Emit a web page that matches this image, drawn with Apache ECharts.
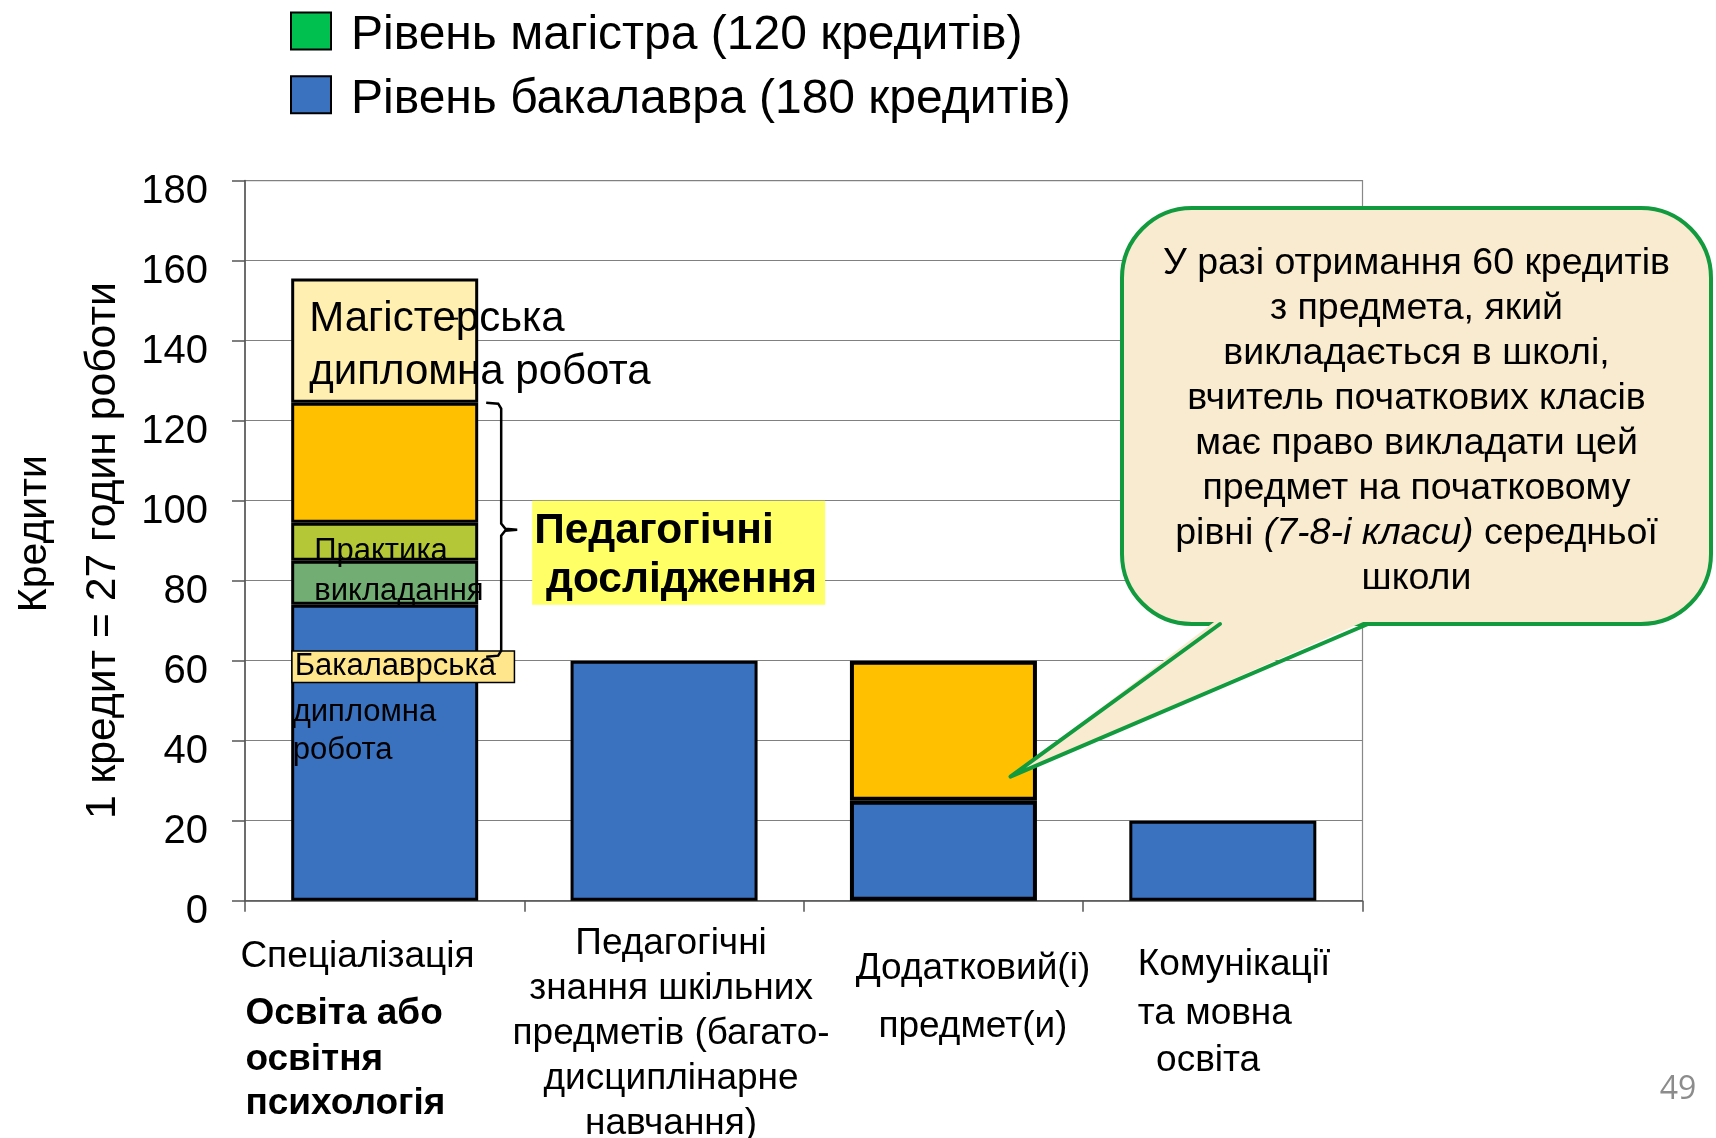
<!DOCTYPE html>
<html><head><meta charset="utf-8">
<script src="https://cdn.jsdelivr.net/npm/echarts@6/dist/echarts.min.js"></script>
<style>html,body{margin:0;padding:0;background:#fff}#c{width:1716px;height:1138px}</style>
</head><body><div id="c"></div>
<script>
// ---------- data ----------
const categories = ['Спеціалізація', 'Педагогічні знання шкільних предметів', 'Додатковий(і) предмет(и)', 'Комунікації та мовна освіта'];
const categoryLabelLines = [
  ['Спеціалізація', 'Освіта або', 'освітня', 'психологія'],
  ['Педагогічні', 'знання шкільних', 'предметів (багато-', 'дисциплінарне', 'навчання)'],
  ['Додатковий(і)', 'предмет(и)'],
  ['Комунікації', 'та мовна', ' освіта']
];
const yMin = 0, yMax = 180, yInterval = 20;
const legendNames = ['Рівень магістра (120 кредитів)', 'Рівень бакалавра (180 кредитів)'];
const bachelorValues = [74, 60, 25, 20];
const practiceLowerValues = [11, null, null, null];
const practiceUpperValues = [9.5, null, null, null];
const researchValues = [30, null, 35, null];
const masterThesisValues = [31, null, null, null];
const masterLegendValues = [];
const yAxisTitleLines = ['Кредити', '1 кредит = 27 годин роботи'];
const masterThesisText = 'Магістерська\nдипломна робота';
const practiceText = 'Практика\nвикладання';
const bachelorThesisLines = ['Бакалаврська', 'дипломна', 'робота'];
const researchText = 'Педагогічні\n дослідження';
const calloutText = 'У разі отримання 60 кредитів\nз предмета, який\nвикладається в школі,\nвчитель початкових класів\nмає право викладати цей\nпредмет на початковому\nрівні {i|(7-8-і класи)} середньої\nшколи';
const pageNumber = '49';

// ---------- styles ----------
const FONT = 'Liberation Sans';
const BAR_W = 187;
const border = {borderColor: '#000', borderWidth: 3};
const catStyle = [
  {w: 300, align: 'left', pad: [16.4, 21.4, 21.4, 21.4], lh: [71, 43, 49, 39], bold: [false, true, true, true]},
  {w: 300, align: 'center', pad: [14, 14, 14, 14, 14], lh: [45, 45, 45, 45, 45]},
  {w: 300, align: 'center', pad: [59, 59], lh: [95, 20]},
  {w: 300, align: 'left', pad: [138, 138, 146], lh: [87, 11, 83]}
];
const rich = {};
catStyle.forEach((s, i) => s.lh.forEach((lh, j) => {
  rich['c' + i + 'l' + j] = {
    fontSize: 37, lineHeight: lh, width: s.w, align: s.align, padding: [0, 0, 0, s.pad[j]],
    fontWeight: (s.bold && s.bold[j]) ? 'bold' : 'normal', color: '#000', fontFamily: FONT
  };
}));

function withBar3Border(arr) {
  return arr.map((v, i) => (i === 2 && v != null) ? {value: v, itemStyle: {borderWidth: 4}} : v);
}

const bachelorData = withBar3Border(bachelorValues).map((v, i) => i === 0 ? {
  value: v,
  label: {
    show: true, position: [1.5, 43], align: 'left', verticalAlign: 'top', color: '#000',
    formatter: () => '{box|' + bachelorThesisLines[0] + '}\n{t2|' + bachelorThesisLines[1] + '}\n{t3|' + bachelorThesisLines[2] + '}',
    rich: {
      box: {fontSize: 31, fontFamily: FONT, color: '#000', width: 219, height: 30, lineHeight: 38,
            backgroundColor: '#FFE68C', borderColor: '#000', borderWidth: 1.5, padding: [0, 0, 0, 2]},
      t2: {fontSize: 31, fontFamily: FONT, color: '#000', lineHeight: 54},
      t3: {fontSize: 31, fontFamily: FONT, color: '#000', lineHeight: 22}
    }
  }
} : v);

const option = {
  animation: false,
  backgroundColor: '#fff',
  textStyle: {fontFamily: FONT},
  legend: {
    data: legendNames, orient: 'vertical', left: 290, top: 2, itemWidth: 40, itemHeight: 37,
    itemGap: 5.7, icon: 'rect', selectedMode: false, padding: 0,
    itemStyle: {borderColor: '#000', borderWidth: 2},
    formatter: name => '{t|' + name + '}',
    textStyle: {fontSize: 48, color: '#000', lineHeight: 50, fontFamily: FONT,
      rich: {t: {fontSize: 48, color: '#000', lineHeight: 50, fontFamily: FONT, padding: [10, 0, 0, 15]}}}
  },
  grid: {left: 245, right: 353.5, top: 180.6, bottom: 237.3, containLabel: false, outerBoundsMode: 'none',
         show: true, borderColor: '#888', borderWidth: 1.2, backgroundColor: 'transparent'},
  xAxis: {
    type: 'category', data: categories,
    axisLine: {show: true, lineStyle: {color: '#555', width: 1.5}},
    axisTick: {show: true, length: 11, lineStyle: {color: '#555', width: 1.5}},
    axisLabel: {
      interval: 0, margin: 21, color: '#000', fontSize: 37,
      formatter: (val, idx) => categoryLabelLines[idx].map((t, j) => '{c' + idx + 'l' + j + '|' + t + '}').join('\n'),
      rich: rich
    },
    splitLine: {show: false}
  },
  yAxis: {
    type: 'value', min: yMin, max: yMax, interval: yInterval,
    name: '{n1|' + yAxisTitleLines[0] + '}\n{n2|' + yAxisTitleLines[1] + '}',
    nameLocation: 'middle', nameRotate: 90, nameGap: 107, nameMoveOverlap: false,
    nameTextStyle: {fontSize: 42, lineHeight: 69, color: '#000', fontFamily: FONT,
      rich: {
        n1: {fontSize: 41, lineHeight: 69, color: '#000', fontFamily: FONT, padding: [0, 0, 0, 14]},
        n2: {fontSize: 42.7, lineHeight: 69, color: '#000', fontFamily: FONT, padding: [0, 20, 0, 0]}
      }},
    axisLine: {show: true, lineStyle: {color: '#555', width: 1.5}},
    axisTick: {show: true, length: 13, lineStyle: {color: '#555', width: 1.5}},
    axisLabel: {fontSize: 40, color: '#000', margin: 37, fontFamily: FONT, verticalAlign: 'top', lineHeight: 22},
    splitLine: {show: true, lineStyle: {color: '#808080', width: 1.2}}
  },
  series: [
    {name: legendNames[1], type: 'bar', stack: 'a', barWidth: BAR_W, data: bachelorData,
     itemStyle: Object.assign({color: '#3A72C0'}, border)},
    {name: 'Практика викладання (1)', type: 'bar', stack: 'a', barWidth: BAR_W, data: practiceLowerValues,
     itemStyle: Object.assign({color: '#72AE73'}, border)},
    {name: 'Практика викладання (2)', type: 'bar', stack: 'a', barWidth: BAR_W, data: practiceUpperValues,
     itemStyle: Object.assign({color: '#B4C837'}, border),
     label: {show: true, position: [23, 9], align: 'left', verticalAlign: 'top', formatter: practiceText,
             fontSize: 31, lineHeight: 40, color: '#000', fontFamily: FONT}},
    {name: 'Педагогічні дослідження', type: 'bar', stack: 'a', barWidth: BAR_W, data: withBar3Border(researchValues),
     itemStyle: Object.assign({color: '#FFC000'}, border)},
    {name: 'Магістерська дипломна робота', type: 'bar', stack: 'a', barWidth: BAR_W, data: masterThesisValues,
     itemStyle: Object.assign({color: '#FFEFB0'}, border),
     label: {show: true, position: [18, 14], align: 'left', verticalAlign: 'top', formatter: masterThesisText,
             fontSize: 42, lineHeight: 53, color: '#000', fontFamily: FONT}},
    {name: legendNames[0], type: 'bar', stack: 'a', barWidth: BAR_W, data: masterLegendValues,
     itemStyle: Object.assign({color: '#00C050'}, border)}
  ]
};

const chart = echarts.init(document.getElementById('c'));
chart.setOption(option);

const yp = v => chart.convertToPixel({yAxisIndex: 0}, v);
const xp = i => chart.convertToPixel({xAxisIndex: 0}, categories[i]);
const barLeft = xp(0) - BAR_W / 2, barRight = xp(0) + BAR_W / 2;
const bTop = yp(124.5), bBot = yp(61), bMid = (bTop + bBot) / 2, bx = barRight + 23;
const tipX = xp(2) + 67, tipY = yp(31);
const bubble = {x: 1122, y: 208, w: 589, h: 416, tailL: 1220, tailR: 1368};
const green = '#129A3E', beige = '#F9EBD0';

chart.setOption({
  graphic: [
    {type: 'polyline', z: 10, shape: {points: [
      [barRight + 8, bTop], [bx - 3, bTop + 1], [bx, bTop + 6], [bx, bMid - 6], [bx + 4, bMid - 1], [bx + 16, bMid],
      [bx + 4, bMid + 1], [bx, bMid + 6], [bx, bBot - 6], [bx - 3, bBot - 1], [barRight + 8, bBot]]},
     style: {stroke: '#000', lineWidth: 2.5, fill: null}},
    {type: 'line', z: 10, shape: {x1: barLeft + 151, y1: yp(145.5), x2: barLeft + 167, y2: yp(145.5)},
     style: {stroke: '#000', lineWidth: 2}},
    {type: 'text', z: 10, x: barRight + 54, y: yp(100),
     style: {text: researchText, fontSize: 42.5, fontWeight: 'bold', fontFamily: FONT, lineHeight: 49,
             fill: '#000', backgroundColor: '#FFFF66', padding: [6, 8, 0, 2], align: 'left', verticalAlign: 'top'}},
    {type: 'rect', z: 10, shape: {x: bubble.x, y: bubble.y, width: bubble.w, height: bubble.h, r: 70},
     style: {fill: beige, stroke: green, lineWidth: 4}},
    {type: 'polygon', z: 11, shape: {points: [[bubble.tailL - 2, bubble.y + bubble.h - 5], [tipX, tipY], [bubble.tailR + 2, bubble.y + bubble.h - 5]]},
     style: {fill: beige, stroke: null}},
    {type: 'polyline', z: 12, shape: {points: [[bubble.tailL, bubble.y + bubble.h], [tipX, tipY], [bubble.tailR, bubble.y + bubble.h]]},
     style: {stroke: green, lineWidth: 4, fill: null, lineJoin: 'round', lineCap: 'round'}},
    {type: 'text', z: 13, x: bubble.x + bubble.w / 2, y: 241,
     style: {text: calloutText, fontSize: 37.5, lineHeight: 45, fontFamily: FONT, fill: '#000', align: 'center', verticalAlign: 'top',
             rich: {i: {fontStyle: 'italic', fontSize: 37.5, lineHeight: 45, fontFamily: FONT, fill: '#000'}}}},
    {type: 'text', z: 10, x: 1678, y: 1090,
     style: {text: pageNumber, fontSize: 32, fontFamily: 'Open Sans', fill: '#8c8c8c', align: 'center', verticalAlign: 'middle'}}
  ]
});
</script>
</body></html>
